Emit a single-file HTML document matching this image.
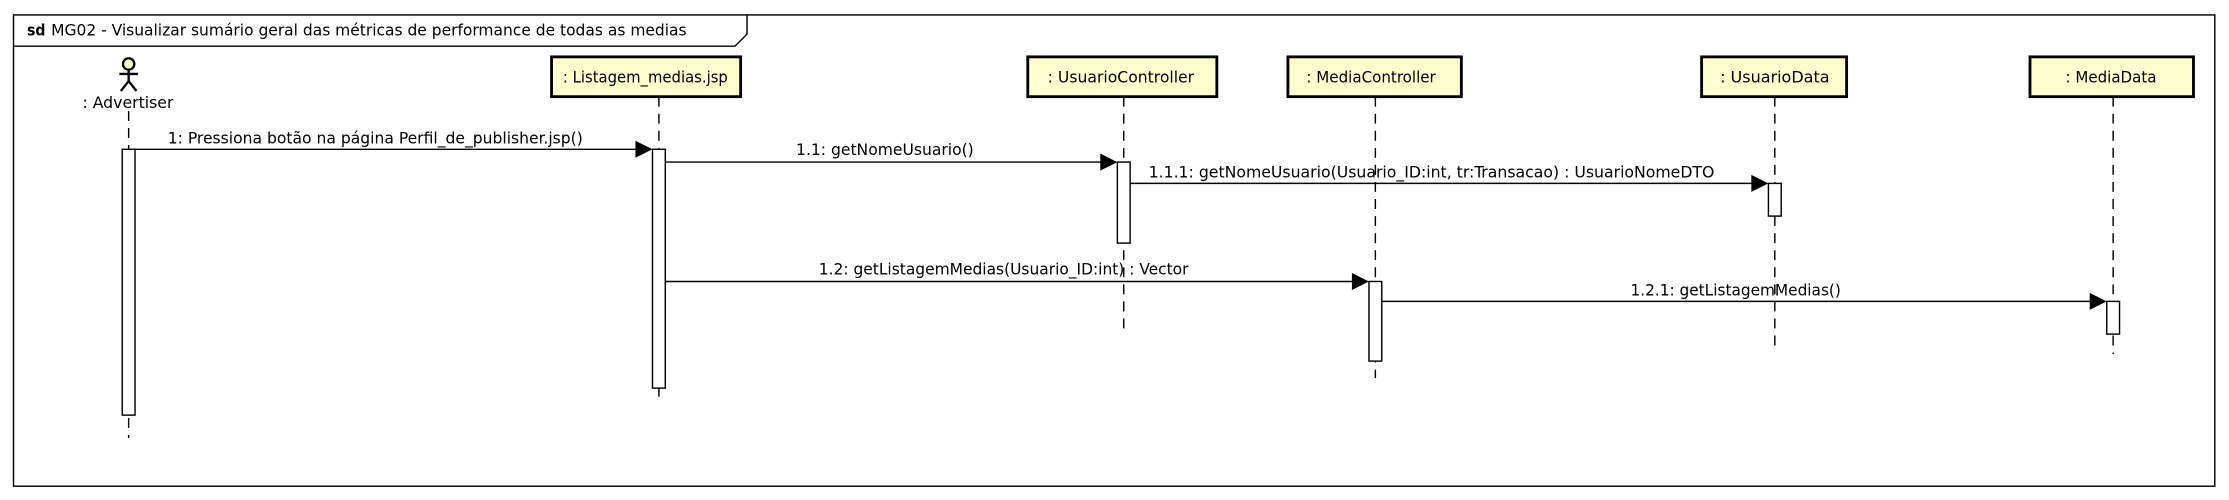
<!DOCTYPE html>
<html><head><meta charset="utf-8"><style>
html,body{margin:0;padding:0;background:#fff;}
svg{display:block;}
text{font-family:"DejaVu Sans Condensed","DejaVu Sans","Liberation Sans",sans-serif;font-size:11px;fill:#000;}
</style></head><body>
<svg width="2229" height="500" viewBox="0 0 1568 351.7" preserveAspectRatio="none" xmlns="http://www.w3.org/2000/svg">
<rect x="0" y="0" width="1568" height="352" fill="#fff"/>
<rect x="9.5" y="10.5" width="1548.5" height="331.5" fill="none" stroke="#000" stroke-width="1"/>
<path d="M9.5 32.5 H517 L525.5 24 V10.5" fill="none" stroke="#000" stroke-width="1"/>
<text x="19" y="25" font-weight="bold">sd</text>
<text x="36" y="25" textLength="447" lengthAdjust="spacingAndGlyphs">MG02 - Visualizar sumário geral das métricas de performance de todas as medias</text>

<g stroke="#000" stroke-width="1" stroke-dasharray="7,5" fill="none">
<line x1="90.5" y1="78" x2="90.5" y2="308"/>
<line x1="463.5" y1="68" x2="463.5" y2="283"/>
<line x1="790.5" y1="68" x2="790.5" y2="233"/>
<line x1="967.5" y1="68" x2="967.5" y2="266"/>
<line x1="1248.5" y1="68" x2="1248.5" y2="248"/>
<line x1="1486.5" y1="68" x2="1486.5" y2="249"/>
</g>

<g stroke="#000" stroke-width="1.6" fill="none">
<circle cx="90.5" cy="45" r="4" fill="#FEFECE"/>
<line x1="90.5" y1="49" x2="90.5" y2="57"/>
<line x1="84" y1="52" x2="97" y2="52"/>
<line x1="90.5" y1="57" x2="85" y2="64"/>
<line x1="90.5" y1="57" x2="96" y2="64"/>
</g>
<text x="58" y="76" textLength="64" lengthAdjust="spacingAndGlyphs">: Advertiser</text>

<g fill="#FEFECE" stroke="#000" stroke-width="2">
<rect x="388" y="40" width="133" height="28"/>
<rect x="723" y="40" width="133" height="28"/>
<rect x="906" y="40" width="122" height="28"/>
<rect x="1197" y="40" width="102" height="28"/>
<rect x="1428" y="40" width="115" height="28"/>
</g>
<text x="396" y="58" textLength="116" lengthAdjust="spacingAndGlyphs">: Listagem_medias.jsp</text>
<text x="737" y="58" textLength="103" lengthAdjust="spacingAndGlyphs">: UsuarioController</text>
<text x="919" y="58" textLength="91" lengthAdjust="spacingAndGlyphs">: MediaController</text>
<text x="1210" y="58" textLength="77" lengthAdjust="spacingAndGlyphs">: UsuarioData</text>
<text x="1453" y="58" textLength="64" lengthAdjust="spacingAndGlyphs">: MediaData</text>

<g fill="#fff" stroke="#000" stroke-width="1">
<rect x="86" y="105" width="9" height="187"/>
<rect x="459" y="105" width="9" height="168"/>
<rect x="786" y="114" width="9" height="57"/>
<rect x="963" y="198" width="9" height="56"/>
<rect x="1244" y="129" width="9" height="23"/>
<rect x="1482" y="212" width="9" height="23"/>
</g>

<g stroke="#000" stroke-width="1">
<line x1="95" y1="105" x2="450" y2="105"/>
<line x1="468" y1="114" x2="777" y2="114"/>
<line x1="795" y1="129" x2="1235" y2="129"/>
<line x1="468" y1="198" x2="954" y2="198"/>
<line x1="972" y1="212" x2="1473" y2="212"/>
</g>
<g fill="#000">
<polygon points="447,99 459,105 447,111"/>
<polygon points="774,108 786,114 774,120"/>
<polygon points="1232,123 1244,129 1232,135"/>
<polygon points="951,192 963,198 951,204"/>
<polygon points="1470,206 1482,212 1470,218"/>
</g>
<text x="118" y="101" textLength="292" lengthAdjust="spacingAndGlyphs">1: Pressiona botão na página Perfil_de_publisher.jsp()</text>
<text x="560" y="109" textLength="125" lengthAdjust="spacingAndGlyphs">1.1: getNomeUsuario()</text>
<text x="808" y="125" textLength="398" lengthAdjust="spacingAndGlyphs">1.1.1: getNomeUsuario(Usuario_ID:int, tr:Transacao) : UsuarioNomeDTO</text>
<text x="576" y="193" textLength="260" lengthAdjust="spacingAndGlyphs">1.2: getListagemMedias(Usuario_ID:int) : Vector</text>
<text x="1147" y="208" textLength="148" lengthAdjust="spacingAndGlyphs">1.2.1: getListagemMedias()</text>
</svg>
</body></html>
